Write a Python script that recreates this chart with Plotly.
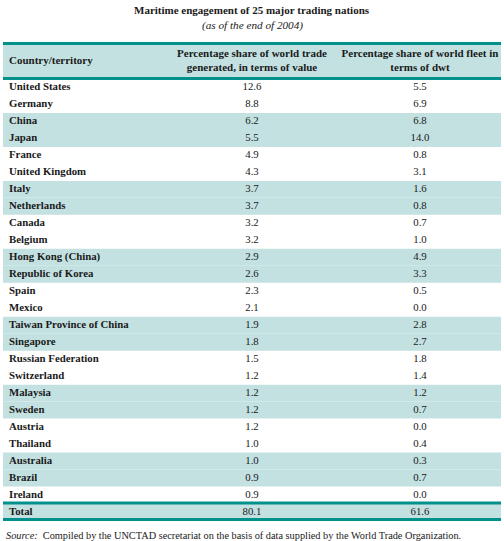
import plotly.graph_objects as go

countries = ["United States", "Germany", "China", "Japan", "France", "United Kingdom",
             "Italy", "Netherlands", "Canada", "Belgium", "Hong Kong (China)",
             "Republic of Korea", "Spain", "Mexico", "Taiwan Province of China",
             "Singapore", "Russian Federation", "Switzerland", "Malaysia", "Sweden",
             "Austria", "Thailand", "Australia", "Brazil", "Ireland"]
trade_share = [12.6, 8.8, 6.2, 5.5, 4.9, 4.3, 3.7, 3.7, 3.2, 3.2, 2.9, 2.6, 2.3, 2.1,
               1.9, 1.8, 1.5, 1.2, 1.2, 1.2, 1.2, 1.0, 1.0, 0.9, 0.9]
fleet_share = [5.5, 6.9, 6.8, 14.0, 0.8, 3.1, 1.6, 0.8, 0.7, 1.0, 4.9, 3.3, 0.5, 0.0,
               2.8, 2.7, 1.8, 1.4, 1.2, 0.7, 0.0, 0.4, 0.3, 0.7, 0.0]
total_label = "Total"
total_trade = 80.1
total_fleet = 61.6
headers = ["Country/territory",
           "Percentage share of world trade<br>generated, in terms of value",
           "Percentage share of world fleet in<br>terms of dwt"]
title = "Maritime engagement of 25 major trading nations"
subtitle = "(as of the end of 2004)"
source = "Compiled by the UNCTAD secretariat on the basis of data supplied by the World Trade Organization."

# ---- styling / geometry ----
W, H = 504, 541
TEAL = "#00918c"
SHADE = "#c3e1e1"
TXT = "#1a1a1a"
FONT = "Liberation Serif"

ROW_PX = 16.98          # pixel height of one body row
FIRST_ROW_TOP = 79.0    # pixel y of first body row top
PLOT_TOP, PLOT_BOT = 40.0, 523.0
TABLE_W = 498.0         # table width in pixels (x data units)
HEADER_TOP_PX = 44.5
HEADER_BOT_PX = 77.5

def row_of(p):
    """convert pixel y to row-unit y (row i centred on i)"""
    return (p - FIRST_ROW_TOP) / ROW_PX - 0.5

labels = countries + [total_label]
col2 = ["%.1f" % v for v in trade_share] + ["%.1f" % total_trade]
col3 = ["%.1f" % v for v in fleet_share] + ["%.1f" % total_fleet]
n = len(labels)
rows = list(range(n))

shaded = [i for i in range(n - 1) if (i % 4) in (2, 3)] + [n - 1]

fig = go.Figure()

# shaded row bands
fig.add_trace(go.Bar(
    orientation="h", y=shaded, x=[TABLE_W] * len(shaded), base=0, width=1.0,
    marker=dict(color=SHADE, line=dict(width=0)), hoverinfo="skip", showlegend=False))

# header band
h_top, h_bot = row_of(HEADER_TOP_PX), row_of(HEADER_BOT_PX)
fig.add_trace(go.Bar(
    orientation="h", y=[(h_top + h_bot) / 2], x=[TABLE_W], base=0, width=h_bot - h_top,
    marker=dict(color=SHADE, line=dict(width=0)), hoverinfo="skip", showlegend=False))

COL1_X, COL2_X, COL3_X = 6.0, 249.0, 417.0
tf = dict(family=FONT, size=10.8, color=TXT)

fig.add_trace(go.Scatter(
    x=[COL1_X] * n, y=rows, mode="text", text=["<b>%s</b>" % s for s in labels],
    textposition="middle right", textfont=tf, hoverinfo="skip", showlegend=False))
fig.add_trace(go.Scatter(
    x=[COL2_X] * n, y=rows, mode="text", text=col2,
    textposition="middle center", textfont=tf, hoverinfo="skip", showlegend=False))
fig.add_trace(go.Scatter(
    x=[COL3_X] * n, y=rows, mode="text", text=col3,
    textposition="middle center", textfont=tf, hoverinfo="skip", showlegend=False))

# header texts
hy = (h_top + h_bot) / 2
fig.add_trace(go.Scatter(
    x=[COL1_X, COL2_X, COL3_X], y=[hy] * 3, mode="text",
    text=["<b>%s</b>" % h for h in headers],
    textposition=["middle right", "middle center", "middle center"],
    textfont=dict(family=FONT, size=11, color=TXT), hoverinfo="skip", showlegend=False))

# teal rules
for p in [43.5, 78.5, 503.0, 519.5]:
    fig.add_shape(type="line", xref="x", yref="y", x0=0, x1=TABLE_W,
                  y0=row_of(p), y1=row_of(p), line=dict(color=TEAL, width=3), layer="above")

fig.add_annotation(x=0.5, y=1 - 9.5 / H, xref="paper", yref="paper", text="<b>%s</b>" % title,
                   showarrow=False, font=dict(family=FONT, size=11, color=TXT),
                   xanchor="center", yanchor="middle")
fig.add_annotation(x=0.5, y=1 - 25 / H, xref="paper", yref="paper", text="<i>%s</i>" % subtitle,
                   showarrow=False, font=dict(family=FONT, size=11.2, color=TXT),
                   xanchor="center", yanchor="middle")
fig.add_annotation(x=4 / W, y=1 - 535 / H, xref="paper", yref="paper",
                   text="<i>Source:</i>  " + source,
                   showarrow=False, font=dict(family=FONT, size=10.3, color=TXT),
                   xanchor="left", yanchor="middle")

fig.update_layout(
    width=W, height=H, margin=dict(l=0, r=0, t=0, b=0),
    paper_bgcolor="white", plot_bgcolor="white", barmode="overlay",
    xaxis=dict(domain=[3 / W, 501 / W], range=[0, TABLE_W], visible=False, fixedrange=True),
    yaxis=dict(domain=[1 - PLOT_BOT / H, 1 - PLOT_TOP / H],
               range=[row_of(PLOT_BOT), row_of(PLOT_TOP)], visible=False, fixedrange=True),
)
fig.write_html("out.html", config={"displayModeBar": False},
               post_script="document.body.style.margin='0';document.body.style.overflow='hidden';")
